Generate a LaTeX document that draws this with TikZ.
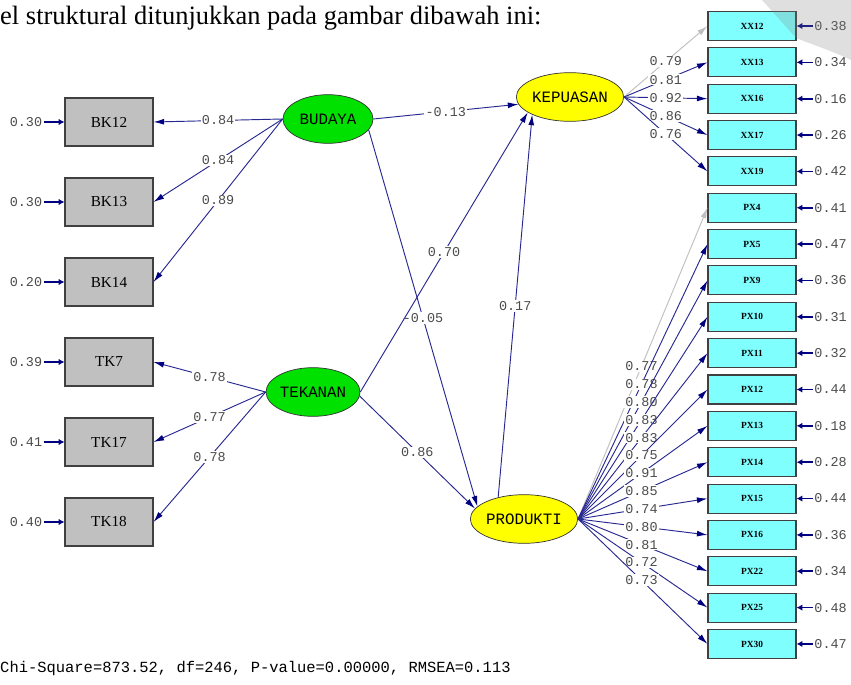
\documentclass[tikz,border=0pt]{standalone}
\usepackage{fontspec}
\setmainfont{Liberation Serif}
\setmonofont{Liberation Mono}
\usetikzlibrary{shapes.geometric, arrows.meta}

\definecolor{pathblue}{RGB}{40,40,145}
\definecolor{tipblue}{RGB}{0,0,128}
\definecolor{obsgray}{RGB}{192,192,192}
\definecolor{obscyan}{RGB}{128,255,255}
\definecolor{latgreen}{RGB}{0,225,0}
\definecolor{latyellow}{RGB}{255,255,0}
\definecolor{numgray}{RGB}{75,75,75}

\tikzset{
  obsbox/.style={draw=black!75, line width=0.9pt, fill=obsgray, minimum width=2.64cm,
    minimum height=1.44cm, inner sep=0pt, font=\fontsize{13}{13}\selectfont},
  indbox/.style={draw=black!75, line width=0.9pt, fill=obscyan, minimum width=2.64cm,
    minimum height=0.87cm, inner sep=0pt, font=\fontsize{8}{8}\selectfont\bfseries},
  latent/.style={ellipse, draw=black!80, line width=0.6pt, minimum width=2.7cm,
    minimum height=1.46cm, inner sep=0pt, font=\ttfamily\fontsize{13.5}{13.5}\selectfont},
  coef/.style={fill=white, inner sep=1pt, text=numgray, font=\ttfamily\fontsize{11.5}{11.5}\selectfont},
  errlbl/.style={inner sep=1pt, text=numgray, font=\ttfamily\fontsize{11.5}{11.5}\selectfont},
  load/.style={draw=pathblue, line width=0.8pt, -{Latex[length=9pt,width=5pt,color=tipblue]}},
  fixload/.style={draw=black!25, line width=0.8pt, -{Latex[length=9pt,width=5pt,color=black!25]}},
  errline/.style={draw=tipblue, line width=1.4pt, -{Latex[length=5pt,width=5.5pt]}}
}

\begin{document}
\begin{tikzpicture}[x=0.03cm, y=-0.03cm]
  \useasboundingbox (0,0) rectangle (851,685);

  \node[anchor=base west, inner sep=0pt, font=\fontsize{22.6}{22.6}\selectfont] (caption) at (0,25)
    {el struktural ditunjukkan pada gambar dibawah ini:};

  % latent variables
  \node[latent, fill=latgreen] (budaya) at (328,119) {BUDAYA};
  \node[latent, fill=latgreen] (tekanan) at (313,392) {TEKANAN};
  \node[latent, fill=latyellow, minimum width=2.58cm] (kepuasan) at (570,97) {KEPUASAN};
  \node[latent, fill=latyellow, minimum width=2.76cm] (produkti) at (524,519) {PRODUKTI};

  % exogenous indicators
  \foreach \nm/\yy/\ev in {BK12/122/0.30, BK13/202/0.30, BK14/282/0.20,
                           TK7/362/0.39, TK17/442/0.41, TK18/522/0.40} {
    \node[obsbox] (\nm) at (109,\yy) {\nm};
    \node[errlbl] (e\nm) at (26,\yy) {\ev};
    \draw[errline] (e\nm) -- (\nm);
  }

  % endogenous indicators
  \foreach \nm/\ev [count=\i from 0] in {XX12/0.38, XX13/0.34, XX16/0.16, XX17/0.26, XX19/0.42,
        PX4/0.41, PX5/0.47, PX9/0.36, PX10/0.31, PX11/0.32, PX12/0.44, PX13/0.18,
        PX14/0.28, PX15/0.44, PX16/0.36, PX22/0.34, PX25/0.48, PX30/0.47} {
    \node[indbox] (\nm) at (752,{26+36.35*\i}) {\nm};
    \node[errlbl, anchor=west] (e\nm) at (813,{26+36.35*\i}) {\ev};
    \draw[errline] (e\nm) -- (\nm);
  }
  \fill[gray, opacity=0.25] (762,0) -- (851,0) -- (851,60) .. controls (830,50) and (805,42) .. (796,38) -- cycle;

  % measurement paths
  \foreach \nm/\ld in {BK12/0.84, BK13/0.84, BK14/0.89}
    \draw[load] (budaya.west) -- node[coef] {\ld} (\nm.east);
  \foreach \nm/\ld in {TK7/0.78, TK17/0.77, TK18/0.78}
    \draw[load] (tekanan.west) -- node[coef] {\ld} (\nm.east);

  \draw[fixload] (kepuasan.east) -- node[coef] {0.79} (XX12.west);
  \foreach \nm/\ld in {XX13/0.81, XX16/0.92, XX17/0.86, XX19/0.76}
    \draw[load] (kepuasan.east) -- node[coef] {\ld} (\nm.west);

  \draw[fixload] (produkti.east) -- node[coef, pos=.49] {0.77} (PX4.west);
  \foreach \nm/\ld in {PX5/0.78, PX9/0.80, PX10/0.83, PX11/0.83, PX12/0.75, PX13/0.91,
                       PX14/0.85, PX15/0.74, PX16/0.80, PX22/0.81, PX25/0.72, PX30/0.73}
    \draw[load] (produkti.east) -- node[coef, pos=.49] {\ld} (\nm.west);

  % structural paths
  \draw[load] (budaya.east) -- node[coef] {-0.13} (kepuasan.188);
  \draw[load] (budaya.-15) -- node[coef] {-0.05} (produkti.165);
  \draw[load] (tekanan.east) -- node[coef] {0.70} (kepuasan.200);
  \draw[load] (produkti.140) -- node[coef] {0.17} (kepuasan.205);
  \draw[load] (tekanan.-5) -- node[coef] {0.86} (produkti.168);

  \node[anchor=west, inner sep=0pt, font=\ttfamily\fontsize{13.2}{13.2}\selectfont] (fit) at (0,668)
    {Chi-Square=873.52, df=246, P-value=0.00000, RMSEA=0.113};
\end{tikzpicture}
\end{document}
